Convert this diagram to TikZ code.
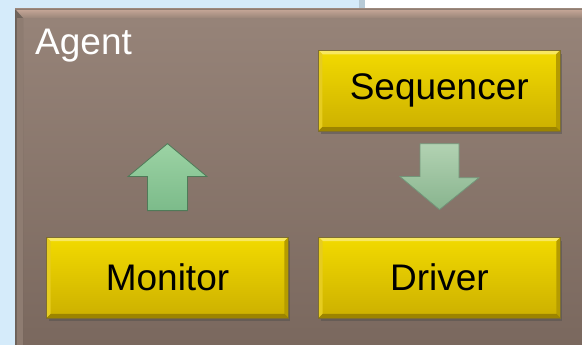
\documentclass[tikz,border=0pt]{standalone}
\usepackage{fontspec}
\setmainfont{Liberation Sans}
\usetikzlibrary{calc,shadows}
\definecolor{bgblue}{HTML}{D5EBFA}
\definecolor{sepgray}{HTML}{B7CAD6}
\definecolor{agtop}{HTML}{978479}
\definecolor{agbot}{HTML}{7A685E}
\definecolor{agbevtop}{HTML}{C7A898}
\definecolor{agbevbot}{HTML}{9A8579}
\definecolor{agedge}{HTML}{6C6058}
\definecolor{ytop}{HTML}{F2DA00}
\definecolor{ybot}{HTML}{CCB000}
\definecolor{ybevt}{HTML}{F8E860}
\definecolor{ybevl}{HTML}{E6CC20}
\definecolor{ybevr}{HTML}{B59C00}
\definecolor{ybevb}{HTML}{9C8400}
\definecolor{yedge}{HTML}{7E6E30}
\definecolor{gtop}{HTML}{9CD3A4}
\definecolor{gbot}{HTML}{7CBB8A}
\definecolor{gline}{HTML}{4F7A58}
\definecolor{g2top}{HTML}{B2D2B2}
\definecolor{g2bot}{HTML}{88B48E}
\tikzset{
  ybox/.style={rectangle, minimum width=241pt, minimum height=80pt, inner sep=0pt,
    top color=ytop, bottom color=ybot, draw=yedge, line width=0.8pt,
    drop shadow={shadow xshift=2pt, shadow yshift=-3pt, opacity=0.45, fill=black!70}},
  btext/.style={font=\fontsize{37}{40}\selectfont, text=black},
  garrow/.style={top color=gtop, bottom color=gbot, draw=gline, line width=0.8pt, line join=miter},
  garrow2/.style={top color=g2top, bottom color=g2bot, draw=gline!80, line width=0.8pt, line join=miter},
}
\newcommand{\ybevel}[1]{%
  \fill[ybevt] (#1.north west) -- (#1.north east) -- ([shift={(-4,4)}]#1.north east) -- ([shift={(4,4)}]#1.north west) -- cycle;
  \fill[ybevl] (#1.north west) -- ([shift={(4,4)}]#1.north west) -- ([shift={(4,-4)}]#1.south west) -- (#1.south west) -- cycle;
  \fill[ybevr] (#1.north east) -- ([shift={(-4,4)}]#1.north east) -- ([shift={(-4,-4)}]#1.south east) -- (#1.south east) -- cycle;
  \fill[ybevb] (#1.south west) -- (#1.south east) -- ([shift={(-4,-4)}]#1.south east) -- ([shift={(4,-4)}]#1.south west) -- cycle;
  \draw[yedge, line width=0.8pt] (#1.north west) rectangle (#1.south east);
}
\begin{document}
\begin{tikzpicture}[x=1pt,y=-1pt]
\useasboundingbox (0,0) rectangle (582,345);
% page background
\fill[bgblue] (0,0) rectangle (582,345);
\fill[white] (365,0) rectangle (582,9);
\fill[sepgray] (359,0) rectangle (365,9);
% agent container
\shade[top color=agtop, bottom color=agbot] (15,9) rectangle (582,345);
\shade[top color=agbevtop, bottom color=agbevbot] (15,9) -- (582,9) -- (582,18) -- (23,18) -- cycle;
\fill[agedge!90!agtop] (15,9) -- (23,18) -- (23,345) -- (15,345) -- cycle;
\fill[agtop!70!agbot] (17,18) rectangle (23,345);
\draw[agedge, line width=1pt] (15,9) -- (15,345);
\draw[agedge!60!agbevtop, line width=0.8pt] (15,9) -- (582,9);
\node[anchor=base west, text=white, font=\fontsize{37}{40}\selectfont, inner sep=0pt] (agent) at (35,55) {Agent};
% blocks
\node[ybox] (seq) at (439.25,90.7) {};
\node[ybox] (mon) at (167.5,277.5) {};
\node[ybox] (drv) at (439.5,277.5) {};
\ybevel{seq}\ybevel{mon}\ybevel{drv}
\node[btext] (seqt) at (seq) {Sequencer};
\node[btext] (mont) at (mon) {Monitor};
\node[btext] (drvt) at (drv) {Driver};
% block arrows
\coordinate (utip) at ($(mon.north)+(0,-93.5)$);
\coordinate (ubase) at ($(mon.north)+(0,-26.5)$);
\path[garrow] (utip) -- ++(39.5,33) -- ++(-19.5,0) -- (ubase -| {$(utip)+(20,0)$}) -- ++(-40,0) -- ++(0,-34) -- ++(-19.5,0) -- cycle;
\coordinate (dtop) at ($(seq.south)+(0.25,12.6)$);
\coordinate (dtip) at ($(drv.north)+(0,-27.5)$);
\path[garrow2] ($(dtop)+(-19.5,0)$) -- ++(39,0) -- ++(0,34) -- ++(20,0) -- (dtip) -- ++(-39.5,-33) -- ++(20,0) -- cycle;
\end{tikzpicture}
\end{document}
